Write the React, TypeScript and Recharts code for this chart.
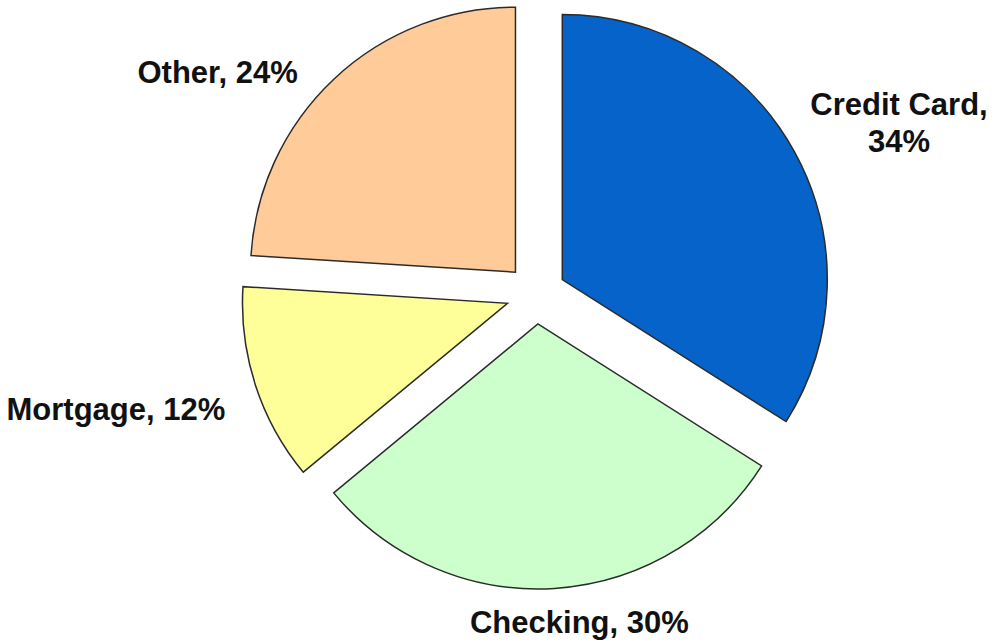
import { PieChart, Pie, Cell } from "recharts";

const categories = ["Credit Card", "Checking", "Mortgage", "Other"];
const shares = [34, 30, 12, 24];
const colors = ["#0563C9", "#CCFFCC", "#FFFF99", "#FFCC99"];

const W = 1004;
const H = 643;
const CX = 536;
const CY = 294;
const R = 265;
const EXPLODE = 30;
const FONT = 31;
const LINE_H = 37;
const FONT_FAMILY = '"Liberation Sans", Arial, sans-serif';
// small hand adjustments of the label boxes, as in the source chart (dx, dy)
const labelNudge = [
  [0, 0],
  [10, 0],
  [-13, 15],
  [-24, 22],
];

const data = categories.map((name, i) => ({ name, value: shares[i] }));
const total = shares.reduce((a, b) => a + b, 0);

// mid angle of each slice, recharts convention (deg, ccw from 3 o'clock), clockwise from 12
const midAngles = shares.map((v, i) => {
  const before = shares.slice(0, i).reduce((a, b) => a + b, 0);
  return 90 - ((before + v / 2) / total) * 360;
});

const unit = (deg: number) => {
  const rad = (deg * Math.PI) / 180;
  return { ux: Math.cos(rad), uy: -Math.sin(rad) };
};

let ctx: CanvasRenderingContext2D | null = null;
const measure = (s: string) => {
  if (!ctx) {
    ctx = document.createElement("canvas").getContext("2d");
    if (ctx) ctx.font = `bold ${FONT}px ${FONT_FAMILY}`;
  }
  return ctx ? ctx.measureText(s).width : s.length * FONT * 0.6;
};

const clamp = (v: number) => Math.max(-1, Math.min(1, v));

const makeLabel = (slice: number) => (props: any) => {
  if (props.index !== slice) return null;
  const { cx, cy, midAngle, outerRadius, name, value } = props;
  const { ux, uy } = unit(midAngle);
  const px = cx + (outerRadius + 18) * ux;
  const py = cy + (outerRadius + 18) * uy;
  const text = `${name}, ${value}%`;
  let lines = [text];
  let w = measure(text);
  let bx = px + (w / 2) * clamp(ux * 2);
  if (bx + w / 2 > W - 4) {
    const cut = text.lastIndexOf(" ");
    lines = [text.slice(0, cut), text.slice(cut + 1)];
    w = Math.max(...lines.map(measure));
    bx = px + (w / 2) * clamp(ux * 2);
  }
  const h = lines.length * LINE_H;
  const [nx, ny] = labelNudge[slice];
  bx += nx;
  const by = py + (h / 2) * uy + ny;
  const top = by - h / 2;
  return (
    <text
      key={`lbl-${slice}`}
      x={bx}
      y={top}
      textAnchor="middle"
      fontFamily={FONT_FAMILY}
      fontWeight="bold"
      fontSize={FONT}
      fill="#111"
    >
      {lines.map((l, j) => (
        <tspan key={j} x={bx} y={top + j * LINE_H + FONT * 0.86}>
          {l}
        </tspan>
      ))}
    </text>
  );
};

export default function App() {
  return (
    <div style={{ position: "absolute", left: 0, top: 0, width: W, height: H, background: "#fff" }}>
      <PieChart width={W} height={H} margin={{ top: 0, right: 0, bottom: 0, left: 0 }}>
        {categories.map((cat, i) => {
          const { ux, uy } = unit(midAngles[i]);
          return (
            <Pie
              key={cat}
              data={data}
              dataKey="value"
              nameKey="name"
              cx={CX + EXPLODE * ux}
              cy={CY + EXPLODE * uy}
              outerRadius={R}
              startAngle={90}
              endAngle={-270}
              isAnimationActive={false}
              label={makeLabel(i)}
              labelLine={false}
            >
              {data.map((d, j) => (
                <Cell
                  key={`cell-${j}`}
                  fill={j === i ? colors[j] : "none"}
                  stroke={j === i ? "#2b2b2b" : "none"}
                  strokeWidth={1.5}
                />
              ))}
            </Pie>
          );
        })}
      </PieChart>
    </div>
  );
}
